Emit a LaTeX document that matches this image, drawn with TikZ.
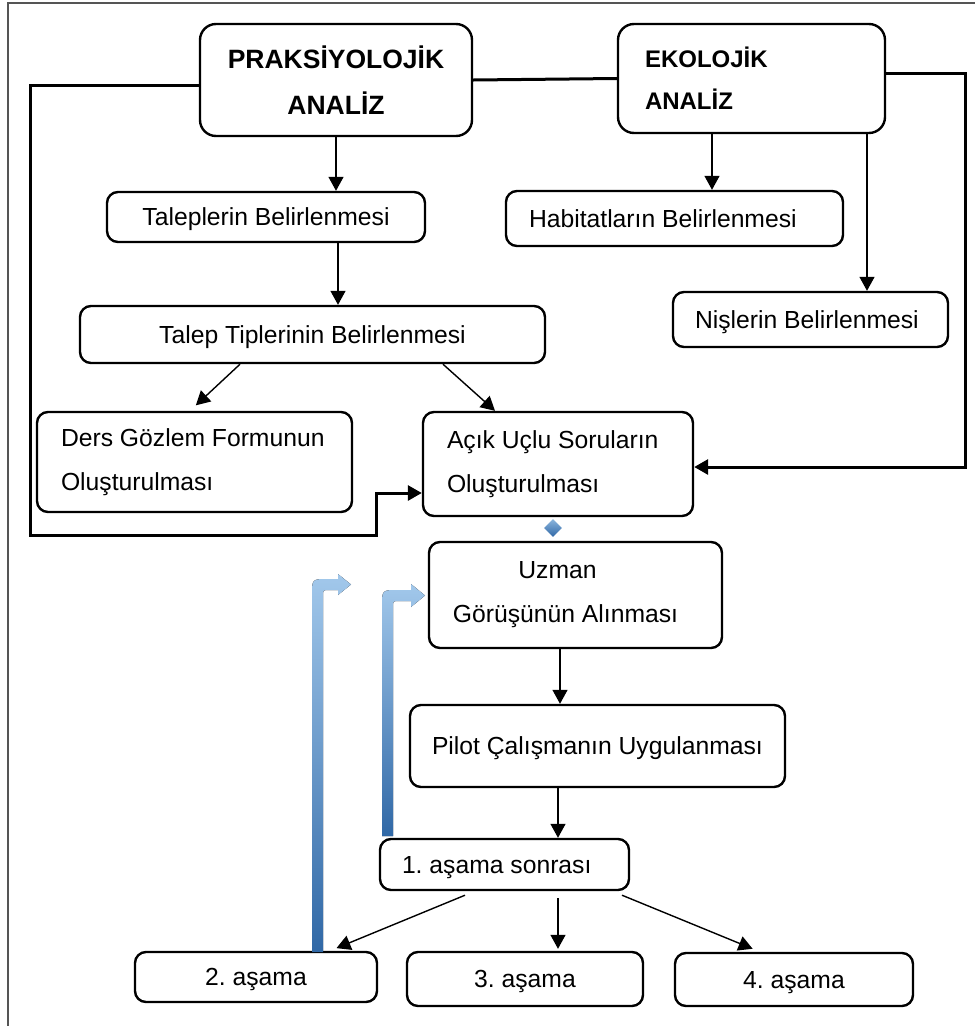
\documentclass[tikz,border=0pt]{standalone}
\usepackage{fontspec}
\setmainfont{Liberation Sans}
\usetikzlibrary{arrows.meta,shapes.geometric,calc}
\definecolor{arrlight}{RGB}{162,200,235}
\definecolor{arrdark}{RGB}{48,104,166}
\definecolor{framegray}{RGB}{85,85,85}
\frenchspacing

\begin{document}
\begin{tikzpicture}[x=1pt,y=-1pt,
  box/.style={draw, line width=2.4pt, rounded corners=11pt, inner sep=0pt,
    align=center, font=\fontsize{24.7}{44}\selectfont},
  lbox/.style={box, align=flush left, inner xsep=23pt},
  oneline/.style={text depth=0pt},
  thinarr/.style={line width=1.4pt, -{Triangle[length=14pt,width=15pt]}},
  thickline/.style={line width=3pt},
  thickarr/.style={thickline, -{Triangle[length=14pt,width=15pt]}},
  bentarrow/.style={top color=arrlight, bottom color=arrdark, draw=none},
]
\useasboundingbox (0,0) rectangle (975,1026);

% outer frame
\draw[framegray, line width=1.2pt] (8,1026) -- (8,3) -- (975,3);

% analysis boxes
\node[box, font=\bfseries\fontsize{26.5}{46}\selectfont, minimum width=272,
  minimum height=112, rounded corners=16pt] (prak) at (336,80) {PRAKSİYOLOJİK\\ANALİZ};
\node[lbox, font=\bfseries\fontsize{24}{42}\selectfont, text width=213pt,
  inner xsep=27pt, minimum height=109, rounded corners=16pt] (eko) at (751.5,78.5) {EKOLOJİK\\ANALİZ};

% steps
\node[box, oneline, minimum width=318, minimum height=50] (tal) at (266,217) {Taleplerin Belirlenmesi};
\node[box, oneline, minimum width=465, minimum height=57] (tip) at (312.5,334.5) {Talep Tiplerinin Belirlenmesi};
\node[lbox, oneline, text width=291pt, minimum height=55] (hab) at (674.5,218.5) {\mbox{Habitatların Belirlenmesi}};
\node[lbox, oneline, text width=231pt, inner xsep=22pt, minimum height=55] (nis) at (810.5,319.5) {\mbox{Nişlerin Belirlenmesi}};
\node[lbox, text width=267pt, inner xsep=24pt, minimum height=100] (ders) at (194.5,462) {\mbox{Ders Gözlem Formunun}\\Oluşturulması};
\node[lbox, text width=222pt, inner xsep=24pt, minimum height=104] (acik) at (558,464) {\mbox{Açık Uçlu Soruların}\\Oluşturulması};
\node[diamond, minimum width=18pt, minimum height=18pt, inner sep=0pt,
  top color=arrlight!80!arrdark, bottom color=arrdark] (dia) at (553,528) {};
\node[box, minimum width=293, minimum height=106] (uzm) at (575.5,595) {Uzman\hspace*{36pt}\\Görüşünün Alınması\hspace*{20pt}};
\node[lbox, oneline, text width=331pt, inner xsep=22pt, minimum height=82] (pil) at (597.5,746) {\mbox{Pilot Çalışmanın Uygulanması}};
\node[lbox, oneline, text width=205pt, inner xsep=22pt, minimum height=51] (a1) at (504.5,864.5) {\mbox{1. aşama sonrası}};
\node[box, oneline, minimum width=242, minimum height=50] (a2) at (256,977) {2. aşama};
\node[box, oneline, minimum width=236, minimum height=54] (a3) at (525,979) {3. aşama};
\node[box, oneline, minimum width=238, minimum height=53] (a4) at (794,979.5) {4. aşama};

% thin connectors
\draw[thinarr] (prak.south) -- (prak.south |- tal.north);
\draw[thinarr] ([xshift=72pt]tal.south) -- ([xshift=72pt]tal.south |- tip.north);
\draw[thinarr, shorten >=8pt] ([xshift=-72.5pt]tip.south) -- ([xshift=-4.5pt]ders.north);
\draw[thinarr] ([xshift=130.5pt]tip.south) -- ([xshift=-63pt]acik.north);
\draw[thinarr] ([xshift=-39.5pt]eko.south) -- ([xshift=-39.5pt]eko.south |- hab.north);
\draw[thinarr] ([xshift=115.5pt]eko.south) -- ([xshift=115.5pt]eko.south |- nis.north);
\draw[thinarr] ([xshift=-15.5pt]uzm.south) -- ([xshift=-15.5pt]uzm.south |- pil.north);
\draw[thinarr] ([xshift=-39.5pt]pil.south) -- ([xshift=-39.5pt]pil.south |- a1.north);
\draw[thinarr, shorten >=7pt] ([xshift=-39.5pt,yshift=-4pt]a1.south) -- ([xshift=74pt]a2.north);
\draw[thinarr, shorten >=2pt] ([xshift=53.5pt,yshift=-7pt]a1.south) -- ([xshift=53.5pt]a1.south |- a3.north);
\draw[thinarr, shorten >=8pt] ([xshift=117.5pt,yshift=-4pt]a1.south) -- ([xshift=-34pt]a4.north);

% thick connectors
\draw[thickline] (prak.east) -- (eko.west);
\draw[thickarr] ([yshift=-5pt]prak.west) -- (30,85) -- (30,535) -- (376,535) -- (376,493) -- ([yshift=-29pt]acik.west);
\draw[thickarr] ([yshift=5.5pt]eko.east) -- (965,73) -- (965,467) -- ([yshift=-3pt]acik.east);

% feedback arrows
\fill[bentarrow] (312,952) -- (312,595) .. controls (312,579) .. (328,579) -- (338,579)
  -- (338,574) -- (351,584.5) -- (338,595) -- (338,590) -- (329,590)
  .. controls (323,590) .. (323,596) -- (323,952) -- cycle;
\fill[bentarrow] (382,836) -- (382,606) .. controls (382,590) .. (398,590) -- (411,590)
  -- (411,584) -- (425,595.5) -- (411,607) -- (411,601) -- (399,601)
  .. controls (393,601) .. (393,607) -- (393,836) -- cycle;
\end{tikzpicture}
\end{document}
